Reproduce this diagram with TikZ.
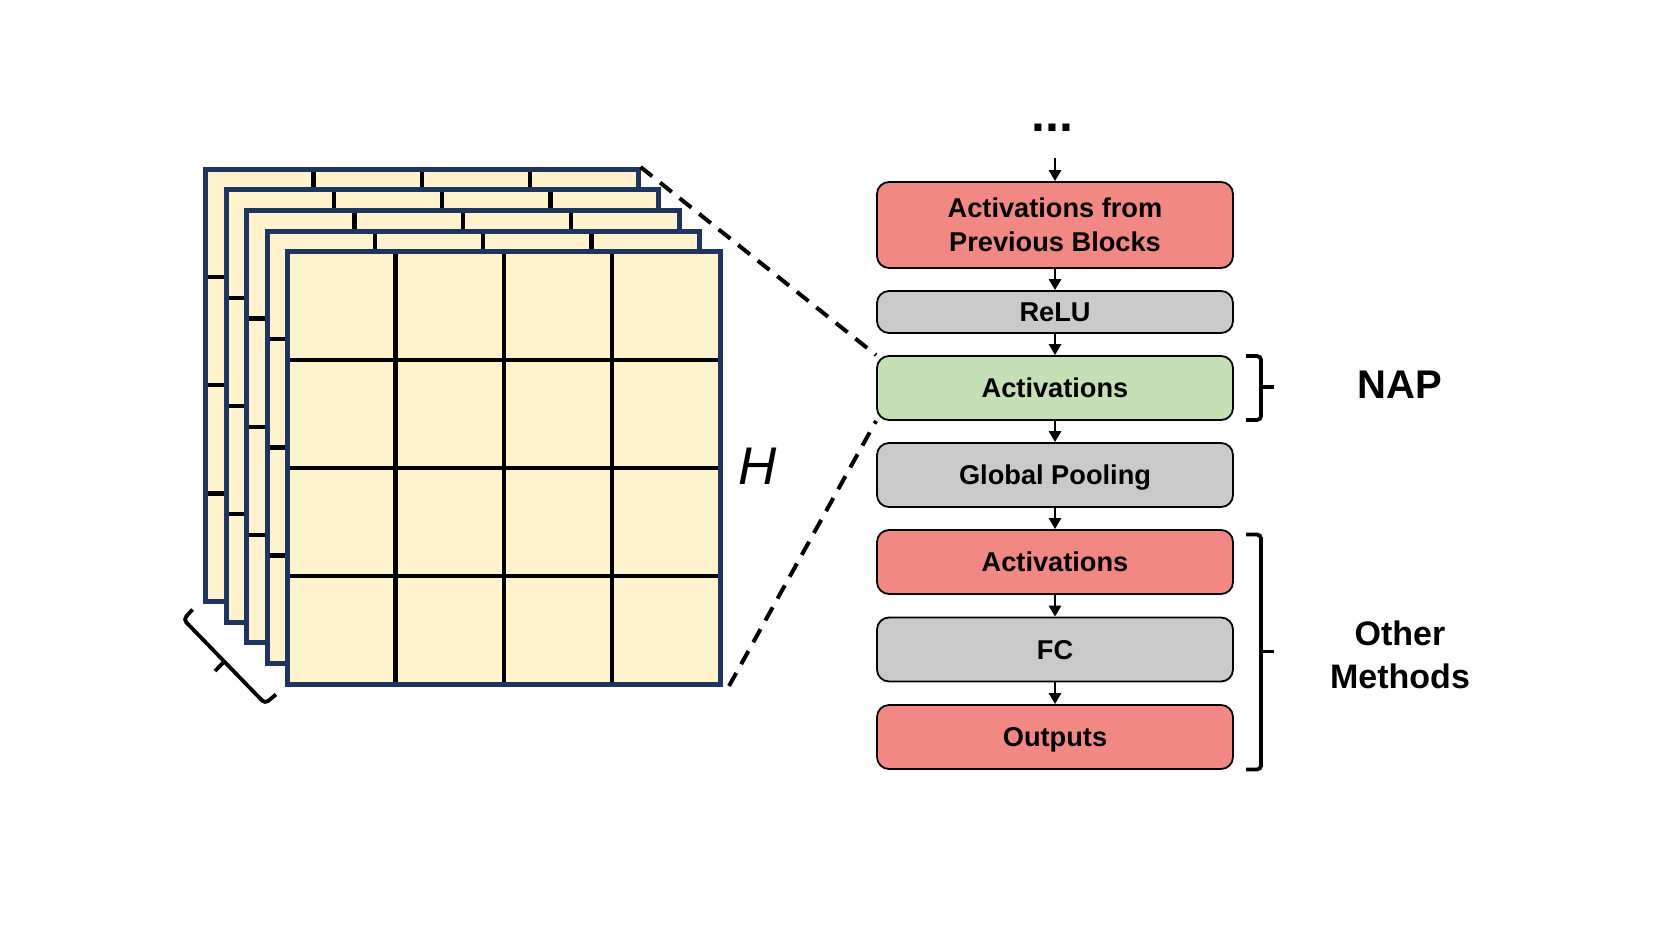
\documentclass[tikz,border=0pt]{standalone}
\usepackage{fontspec}
\setmainfont{Liberation Sans}
\usetikzlibrary{arrows.meta}
\definecolor{mapfill}{HTML}{FFF2CC}
\definecolor{mapedge}{HTML}{1F3560}
\definecolor{cRed}{HTML}{F18883}
\definecolor{cGray}{HTML}{C9C9C9}
\definecolor{cGreen}{HTML}{C5E0B4}
\begin{document}
\begin{tikzpicture}[x=1pt,y=-1pt,
  flowbox/.style={draw=black, line width=1.8pt, rounded corners=12pt,
    minimum width=356pt, minimum height=64pt, inner sep=0pt, align=center,
    font=\fontsize{27.2}{34}\selectfont\bfseries},
  oneline/.style={text height=19.5pt, text depth=0pt},
  arr/.style={line width=2.7pt, -{Triangle[width=12pt,length=11pt]}},
  mapgrid/.style={line width=4.3pt, draw=black},
  mapborder/.style={line width=5pt, draw=mapedge},
  bracket/.style={line width=3.8pt, rounded corners=4pt},
  link/.style={line width=4pt, dash pattern=on 15pt off 10pt}]
\useasboundingbox (0,0) rectangle (1661,934);

% stacked feature maps
\foreach \k in {0,...,4} {
  \pgfmathsetmacro\xa{205.5+20.5*\k}
  \pgfmathsetmacro\ya{169+20.7*\k}
  \fill[mapfill] (\xa,\ya) rectangle ++(432.5,432.5);
  \foreach \i in {1,2,3} {
    \draw[mapgrid] (\xa+\i*108.125,\ya) -- ++(0,432.5);
    \draw[mapgrid] (\xa,\ya+\i*108.125) -- ++(432.5,0);
  }
  \draw[mapborder] (\xa,\ya) rectangle ++(432.5,432.5);
}
\coordinate (backTR) at (640.5,167);
\coordinate (frontBR) at (729,686);

% bracket under the stack
\draw[bracket] (192.5,609.5) -- (183.5,619.5) -- (265,703.5) -- (276,694.5);
\draw[line width=3.8pt] (224.3,661.5) -- (215,671);

\node[font=\fontsize{53}{60}\selectfont\itshape] (hlab) at (758,466) {H};

% flow
\node[font=\fontsize{50}{50}\selectfont\bfseries, inner sep=0pt] (dots) at (1052.4,127.3) {...};
\coordinate (arrtop) at (1055,158);
\node[flowbox, fill=cRed, minimum height=86pt] (prev) at (1055,225) {Activations from\\Previous Blocks};
\node[flowbox, oneline, fill=cGray, minimum height=42pt] (relu) at (1055,312) {ReLU};
\node[flowbox, oneline, fill=cGreen] (act1) at (1055,388) {Activations};
\node[flowbox, oneline, fill=cGray] (pool) at (1055,475) {Global Pooling};
\node[flowbox, oneline, fill=cRed] (act2) at (1055,562) {Activations};
\node[flowbox, oneline, fill=cGray] (fc) at (1055,649.5) {FC};
\node[flowbox, oneline, fill=cRed] (out) at (1055,737) {Outputs};

\draw[arr] (arrtop) -- (prev);
\draw[arr] (prev) -- (relu);
\draw[arr] (relu) -- (act1);
\draw[arr] (act1) -- (pool);
\draw[arr] (pool) -- (act2);
\draw[arr] (act2) -- (fc);
\draw[arr] (fc) -- (out);

% dashed zoom lines
\draw[link] (backTR) -- (act1.north west);
\draw[link] (frontBR) -- (act1.south west);

% braces
\draw[bracket] (1246,356) -- (1261,356) -- (1261,420) -- (1246,420);
\draw[line width=3.8pt] (1261,387) -- (1274,387);
\draw[bracket] (1246,534.5) -- (1261,534.5) -- (1261,769.5) -- (1246,769.5);
\draw[line width=3.8pt] (1261,651.5) -- (1274,651.5);

\node[font=\fontsize{40}{48}\selectfont\bfseries] (nap) at (1400,385) {NAP};
\node[font=\fontsize{34}{42.4}\selectfont\bfseries, align=center] (other) at (1400,655) {Other\\Methods};
\end{tikzpicture}
\end{document}
